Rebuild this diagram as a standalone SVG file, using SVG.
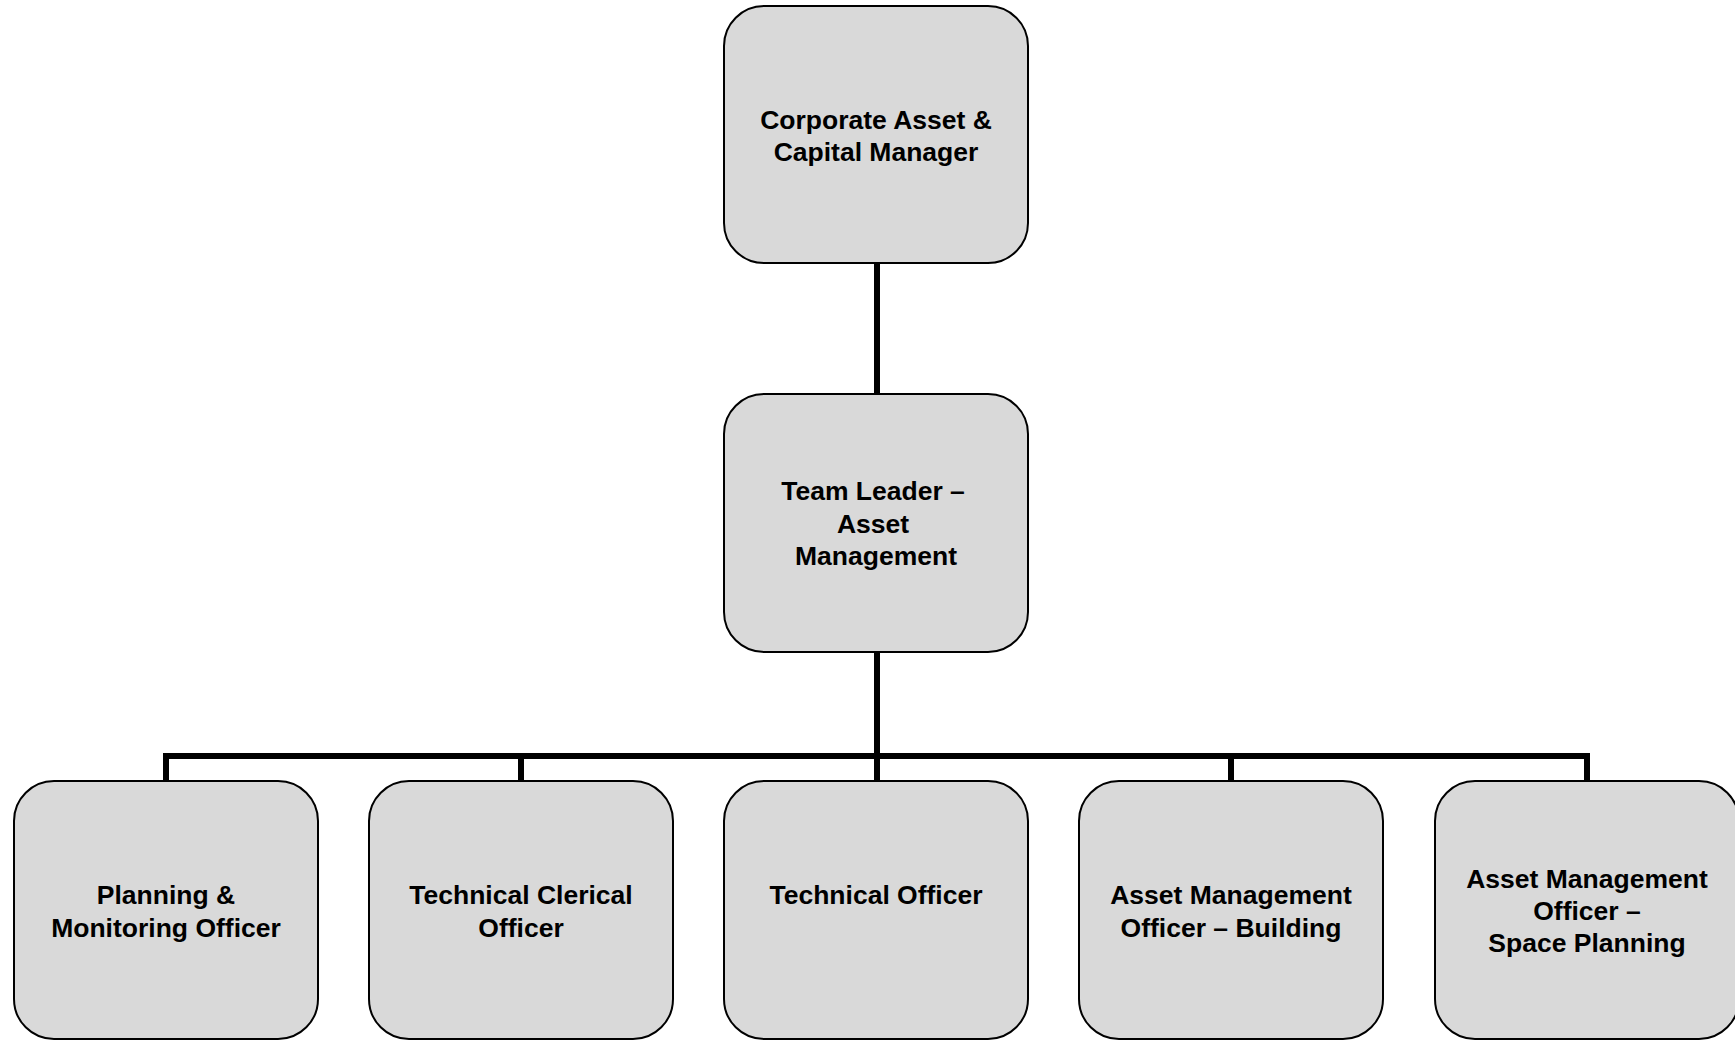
<svg xmlns="http://www.w3.org/2000/svg" width="1735" height="1040" viewBox="0 0 1735 1040">
  <style>
    .box { fill: #d9d9d9; stroke: #000; stroke-width: 2; }
    .lbl { font-family: "Liberation Sans", Arial, sans-serif; font-weight: bold; font-size: 26.5px; fill: #000; text-anchor: middle; }
    .wire { fill: none; stroke: #000; stroke-width: 6; stroke-linejoin: miter; stroke-linecap: butt; }
  </style>
  <rect width="1735" height="1040" fill="#fff"/>

  <!-- reporting lines -->
  <g id="connectors">
    <path class="wire" d="M877 263 V393"/>
    <path class="wire" d="M877 652 V781"/>
    <path class="wire" d="M166 781 V756 H1587 V781"/>
    <path class="wire" d="M521 756 V781"/>
    <path class="wire" d="M1231 756 V781"/>
  </g>

  <g id="corporate-asset-capital-manager">
    <rect class="box" x="724" y="6" width="304" height="257" rx="40" ry="40"/>
    <text class="lbl" x="876" y="129">Corporate Asset &amp;</text>
    <text class="lbl" x="876" y="161">Capital Manager</text>
  </g>

  <g id="team-leader">
    <rect class="box" x="724" y="394" width="304" height="258" rx="40" ry="40"/>
    <text class="lbl" x="873" y="500">Team Leader –</text>
    <text class="lbl" x="873" y="533">Asset</text>
    <text class="lbl" x="876" y="565">Management</text>
  </g>

  <g id="planning-monitoring-officer">
    <rect class="box" x="14" y="781" width="304" height="258" rx="40" ry="40"/>
    <text class="lbl" x="166" y="904">Planning &amp;</text>
    <text class="lbl" x="166" y="937">Monitoring Officer</text>
  </g>

  <g id="technical-clerical-officer">
    <rect class="box" x="369" y="781" width="304" height="258" rx="40" ry="40"/>
    <text class="lbl" x="521" y="904">Technical Clerical</text>
    <text class="lbl" x="521" y="937">Officer</text>
  </g>

  <g id="technical-officer">
    <rect class="box" x="724" y="781" width="304" height="258" rx="40" ry="40"/>
    <text class="lbl" x="876" y="904">Technical Officer</text>
  </g>

  <g id="asset-management-officer-building">
    <rect class="box" x="1079" y="781" width="304" height="258" rx="40" ry="40"/>
    <text class="lbl" x="1231" y="904">Asset Management</text>
    <text class="lbl" x="1231" y="937">Officer – Building</text>
  </g>

  <g id="asset-management-officer-space-planning">
    <rect class="box" x="1435" y="781" width="304" height="258" rx="40" ry="40"/>
    <text class="lbl" x="1587" y="888">Asset Management</text>
    <text class="lbl" x="1587" y="920">Officer –</text>
    <text class="lbl" x="1587" y="952">Space Planning</text>
  </g>
</svg>
